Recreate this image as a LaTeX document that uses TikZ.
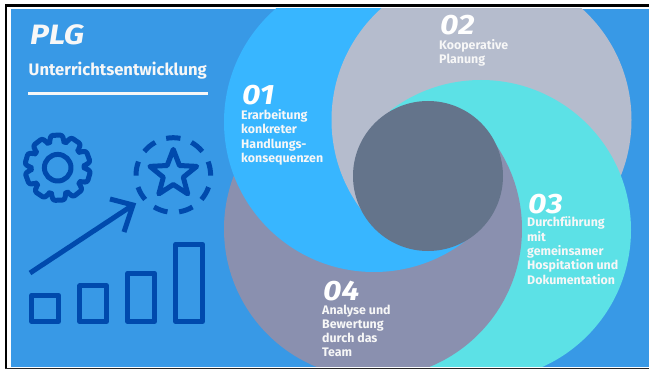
\documentclass[tikz,border=0pt]{standalone}
\usepackage{fontspec}
\setmainfont{Fira Sans}
\newfontfamily\widefont[FakeStretch=1.14]{Fira Sans}
\definecolor{panel}{HTML}{3899E6}
\definecolor{cblue}{HTML}{38B6FF}
\definecolor{cgray}{HTML}{B5BCCD}
\definecolor{cteal}{HTML}{5CE1E6}
\definecolor{cpurple}{HTML}{8A90AF}
\definecolor{cdark}{HTML}{64748B}
\definecolor{cicon}{HTML}{004AAD}
\definecolor{ctext}{HTML}{F7F7F7}
\newcommand{\bodylines}[1]{\begin{tabular}[t]{@{}l@{}}#1\end{tabular}}
\tikzset{
  bodytext/.style={anchor=base west,inner sep=0pt,text=ctext,font=\fontsize{12.4}{14.3}\selectfont\bfseries},
  numtext/.style={anchor=base west,inner sep=0pt,text=white,font=\widefont\fontsize{28}{28}\selectfont\bfseries\itshape},
  iconline/.style={draw=cicon,line width=5pt,line join=round},
}
\begin{document}
\begin{tikzpicture}[x=1pt,y=-1pt]
\useasboundingbox (0,0) rectangle (649,369);
\fill[white] (0,0) rectangle (649,369);
\fill[black] (4.5,4.5) rectangle (649,7);
\fill[black] (4.5,4.5) rectangle (6.8,369);
\fill[black!85] (4.5,367.6) rectangle (649,369);
\fill[panel] (10.7,8.7) rectangle (649,366.7);
\begin{scope}
  \clip (10.7,8.7) rectangle (649,366.7);
  \fill[cblue] (374,122) circle (150);
  \fill[cgray] (481.5,120) circle (150);
  \begin{scope}
    \clip (390,0) rectangle (649,369);
    \fill[cteal] (481,230) circle (150);
  \end{scope}
  \begin{scope}
    \clip (428,118) -- (649,118) -- (649,369) -- (0,369) -- (0,176) -- (428,176) -- cycle;
    \fill[cpurple] (373,229) circle (149);
  \end{scope}
  \begin{scope}
    \clip (0,176) rectangle (470,369);
    \fill[cblue] (374,122) circle (150);
    \clip (0,176) rectangle (390,369);
    \fill[cgray] (481.5,120) circle (150);
  \end{scope}
  \fill[cdark] (428,176) circle (75);
\end{scope}
% title
\node[anchor=base west,inner sep=0pt,text=ctext,font=\widefont\fontsize{28}{28}\selectfont\bfseries\itshape] (title) at (30,45) {PLG};
\node[anchor=base west,inner sep=0pt,text=ctext,font=\fontsize{16.6}{18}\selectfont\bfseries] (sub) at (28.5,76) {Unterrichtsentwicklung};
\fill[ctext] (27.5,91.8) rectangle (207.5,94.8);
% texts
\node[numtext] (n1) at (242,105) {01};
\node[bodytext] (t1) at (241,119.5) {\bodylines{Erarbeitung\\konkreter\\Handlungs-\\konsequenzen}};
\node[numtext] (n2) at (440,35) {02};
\node[bodytext] (t2) at (439,49.5) {\bodylines{Kooperative\\Planung}};
\node[numtext] (n3) at (528,213) {03};
\node[bodytext] (t3) at (527,226.7) {\bodylines{Durchführung\\mit\\gemeinsamer\\Hospitation und\\Dokumentation}};
\node[numtext] (n4) at (323,300) {04};
\node[bodytext] (t4) at (322,314) {\bodylines{Analyse und\\Bewertung\\durch das\\Team}};
% gear
\begin{scope}[shift={(57.7,167.7)}]
  \draw[iconline,rounded corners=2.2pt]
    (0:26.5) \foreach \a in {0,36,...,324}{
      -- (\a+6:33) -- (\a+26:33) -- (\a+32:26.5) -- (\a+36:26.5)
    } -- cycle;
  \draw[iconline] (0,0) circle (13.3);
\end{scope}
% star with dashed ring
\begin{scope}[shift={(173.3,175)}]
  \foreach \a in {-90,-50,-10,30,70,110,150,190,230}{
    \draw[draw=cicon,line width=5pt] (\a-11:37.3) arc[start angle=\a-11,end angle=\a+11,radius=37.3];
  }
\end{scope}
\begin{scope}[shift={(173.3,174)}]
  \draw[iconline] (-90:24.6) -- (-54:10.5) -- (-18:24.6) -- (18:10.5) -- (54:24.6) -- (90:10.5) -- (126:24.6) -- (162:10.5) -- (198:24.6) -- (234:10.5) -- cycle;
\end{scope}
% arrow
\draw[iconline,line join=miter] (30,273) -- (133,205);
\draw[iconline,line join=miter] (110,199) -- (133,205) -- (124,232);
% bars
\draw[iconline] (31.8,295.2) rectangle (58.5,321.5);
\draw[iconline] (79.8,285.8) rectangle (106.5,321.5);
\draw[iconline] (127.8,273.2) rectangle (154.5,321.5);
\draw[iconline] (175.8,244.2) rectangle (202.5,321.5);
\end{tikzpicture}
\end{document}
